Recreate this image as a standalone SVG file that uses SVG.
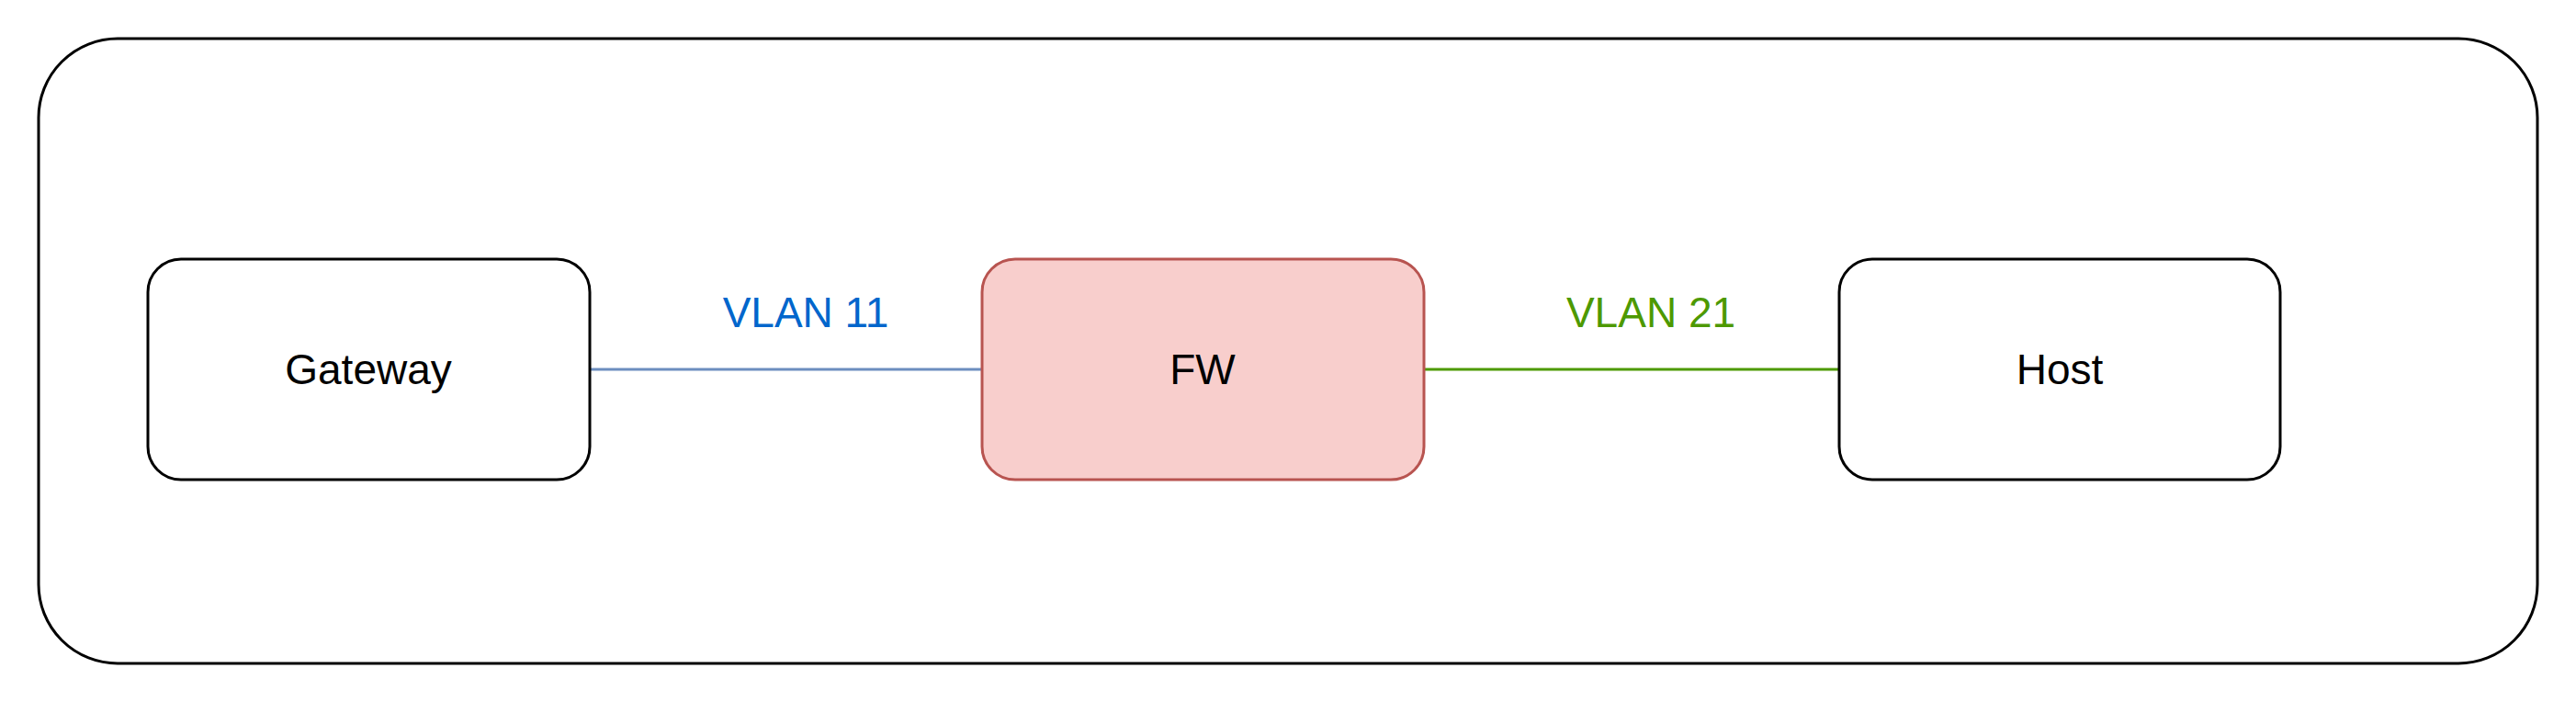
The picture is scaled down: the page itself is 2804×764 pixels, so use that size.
<svg xmlns="http://www.w3.org/2000/svg" width="2804" height="764" viewBox="0 0 2804 764">
  <style>
    .node { fill: #ffffff; stroke: #000000; stroke-width: 3; }
    .fw { fill: #f8cecc; stroke: #b85450; stroke-width: 3; }
    .lbl { font-family: "Liberation Sans", Arial, sans-serif; font-size: 46px; text-anchor: middle; fill: #000000; }
    .edge { fill: none; stroke-width: 3; }
  </style>
  <rect width="2804" height="764" fill="#ffffff"/>
  <g id="container">
    <rect x="42" y="42" width="2720" height="680" rx="86" ry="86" fill="#ffffff" stroke="#000000" stroke-width="3"/>
  </g>
  <g id="connectors">
    <line class="edge" x1="642" y1="402" x2="1069" y2="402" stroke="#6c8ebf"/>
    <line class="edge" x1="1550" y1="402" x2="2002" y2="402" stroke="#4d9900"/>
    <text class="lbl" x="877" y="356" fill="#0066cc" style="fill:#0066cc">VLAN 11</text>
    <text class="lbl" x="1797" y="356" style="fill:#4d9900">VLAN 21</text>
  </g>
  <g id="gateway">
    <rect class="node" x="161" y="282" width="481" height="240" rx="36" ry="36"/>
    <text class="lbl" x="401" y="418">Gateway</text>
  </g>
  <g id="fw">
    <rect class="fw" x="1069" y="282" width="481" height="240" rx="36" ry="36"/>
    <text class="lbl" x="1309" y="418">FW</text>
  </g>
  <g id="host">
    <rect class="node" x="2002" y="282" width="480" height="240" rx="36" ry="36"/>
    <text class="lbl" x="2242" y="418">Host</text>
  </g>
</svg>
